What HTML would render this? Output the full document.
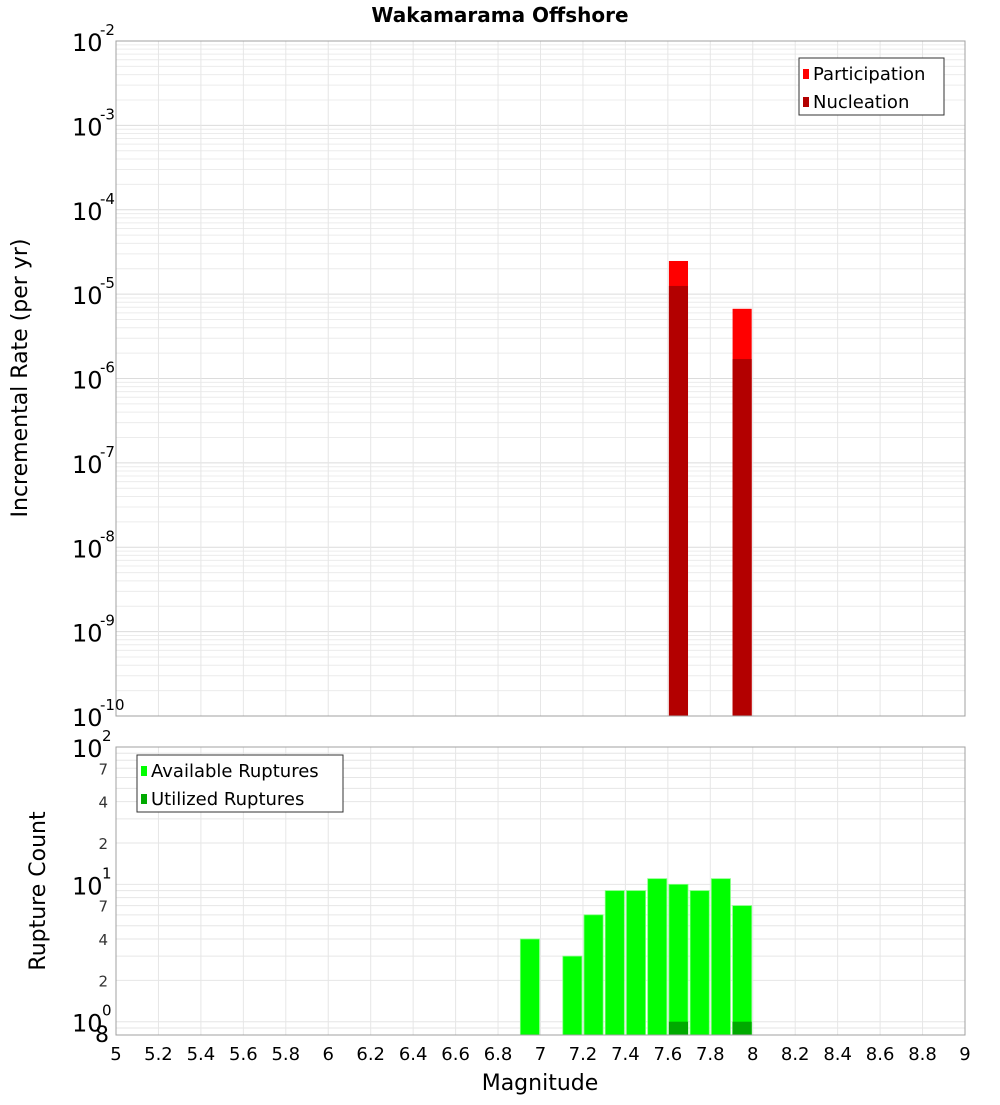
<!DOCTYPE html>
<html><head><meta charset="utf-8"><style>
body{margin:0;background:#fff;}
svg text{font-family:"DejaVu Sans","Liberation Sans",sans-serif;}
</style></head><body>
<svg id="c" width="1000" height="1100" xmlns="http://www.w3.org/2000/svg">
<text x="500" y="22" text-anchor="middle" font-size="20" font-weight="bold">Wakamarama Offshore</text>
<g id="gtop"></g><g id="gbot"></g>
<text transform="translate(27,378) rotate(-90)" text-anchor="middle" font-size="22">Incremental Rate (per yr)</text>
<text transform="translate(45,891) rotate(-90)" text-anchor="middle" font-size="22">Rupture Count</text>
<text x="540" y="1090" text-anchor="middle" font-size="22">Magnitude</text>
</svg>
<script>
const rateMags=[7.65,7.95];
const participation=[2.47e-5,6.7e-6];
const nucleation=[1.25e-5,1.7e-6];
const countMags=[6.95,7.15,7.25,7.35,7.45,7.55,7.65,7.75,7.85,7.95];
const available=[4,3,6,9,9,11,10,9,11,7];
const utilizedMags=[7.65,7.95];
const utilized=[1,1];
const xTicks=[5,5.2,5.4,5.6,5.8,6,6.2,6.4,6.6,6.8,7,7.2,7.4,7.6,7.8,8,8.2,8.4,8.6,8.8,9];
const topExps=[-2,-3,-4,-5,-6,-7,-8,-9,-10];

const NS="http://www.w3.org/2000/svg";
const L=116,R=965;
const X=m=>L+(m-5)/4*(R-L);
const T0=41,T1=716;
const YT=v=>T0+(-2-Math.log10(v))*(T1-T0)/8;
const B0=747,B1=1035,dec=(B1-B0)/Math.log10(100/0.8);
const YB=v=>B0+(2-Math.log10(v))*dec;
function mk(p,tag,a,txt){const e=document.createElementNS(NS,tag);for(const k in a)e.setAttribute(k,a[k]);if(txt!==undefined)e.textContent=txt;p.appendChild(e);return e;}
const gTop=document.getElementById('gtop'),gBot=document.getElementById('gbot');
for(let d=-10;d<-2;d++)for(let k=2;k<=9;k++){mk(gTop,'line',{x1:L,x2:R,y1:YT(k*Math.pow(10,d)),y2:YT(k*Math.pow(10,d)),stroke:'#ececec'});}
topExps.forEach(e=>{const y=YT(Math.pow(10,e));mk(gTop,'line',{x1:L,x2:R,y1:y,y2:y,stroke:'#dcdcdc'});});
[0.8,0.9,1,2,3,4,5,6,7,8,9,10,20,30,40,50,60,70,80,90,100].forEach(v=>{const y=YB(v);mk(gBot,'line',{x1:L,x2:R,y1:y,y2:y,stroke:'#e6e6e6'});});
xTicks.forEach(m=>{mk(gTop,'line',{x1:X(m),x2:X(m),y1:T0,y2:T1,stroke:'#e6e6e6'});mk(gBot,'line',{x1:X(m),x2:X(m),y1:B0,y2:B1,stroke:'#e6e6e6'});});
const bw=0.09;
rateMags.forEach((m,i)=>{
 const p=mk(gTop,'rect',{x:X(m-bw/2),width:X(m+bw/2)-X(m-bw/2),y:YT(participation[i]),height:T1-YT(participation[i]),fill:'#ff0000'});
 
 
 const n=mk(gTop,'rect',{x:X(m-bw/2),width:X(m+bw/2)-X(m-bw/2),y:YT(nucleation[i]),height:T1-YT(nucleation[i]),fill:'#b30000'});
 
 
});
countMags.forEach((m,i)=>{
 const b=mk(gBot,'rect',{x:X(m-bw/2),width:X(m+bw/2)-X(m-bw/2),y:YB(available[i]),height:B1-YB(available[i]),fill:'#00ff00',stroke:'#80ff80','stroke-width':0.8});
 
 
});
utilizedMags.forEach((m,i)=>{
 const b=mk(gBot,'rect',{x:X(m-bw/2),width:X(m+bw/2)-X(m-bw/2),y:YB(utilized[i]),height:B1-YB(utilized[i]),fill:'#00aa00'});
 
 
});
mk(gTop,'rect',{x:L,y:T0,width:R-L,height:T1-T0,fill:'none',stroke:'#a0a0a0'});
mk(gBot,'rect',{x:L,y:B0,width:R-L,height:B1-B0,fill:'none',stroke:'#a0a0a0'});
topExps.forEach(e=>{const y=YT(Math.pow(10,e));
 const t=mk(gTop,'text',{x:72,y:y+10,'font-size':24},'10');
 
 
 mk(gTop,'text',{x:100,y:y-6,'font-size':15},String(e));
});
[[100,'2'],[10,'1'],[1,'0']].forEach(([v,s])=>{const y=YB(v);
 const t=mk(gBot,'text',{x:72,y:y+10,'font-size':24},'10');
 
 
 mk(gBot,'text',{x:102,y:y-6,'font-size':15},s);});
[7,4,2].forEach(k=>{[10,1].forEach(d=>{const y=YB(k*d);mk(gBot,'text',{x:108,y:y+6,'font-size':15,'text-anchor':'end',fill:'#333'},String(k));});});
mk(gBot,'text',{x:102,y:1042,'font-size':22,'text-anchor':'middle'},'8');
xTicks.forEach(m=>{const t=mk(gBot,'text',{x:X(m),y:1060,'font-size':18,'text-anchor':'middle'},String(m));
 
 });
function legend(p,x,y,w,items,name){const g=mk(p,'g',{});
 
 
 mk(g,'rect',{x:x,y:y,width:w,height:57,fill:'#fff',stroke:'#333'});
 items.forEach(([c,s],i)=>{mk(g,'rect',{x:x+4,y:y+11+i*28,width:6,height:10,fill:c});mk(g,'text',{x:x+14,y:y+22+i*28,'font-size':18},s);});}
legend(gTop,799,58,145,[['#ff0000','Participation'],['#b30000','Nucleation']],'top-legend');
legend(gBot,137,755,206,[['#00ff00','Available Ruptures'],['#00aa00','Utilized Ruptures']],'bottom-legend');
</script>
</body></html>
